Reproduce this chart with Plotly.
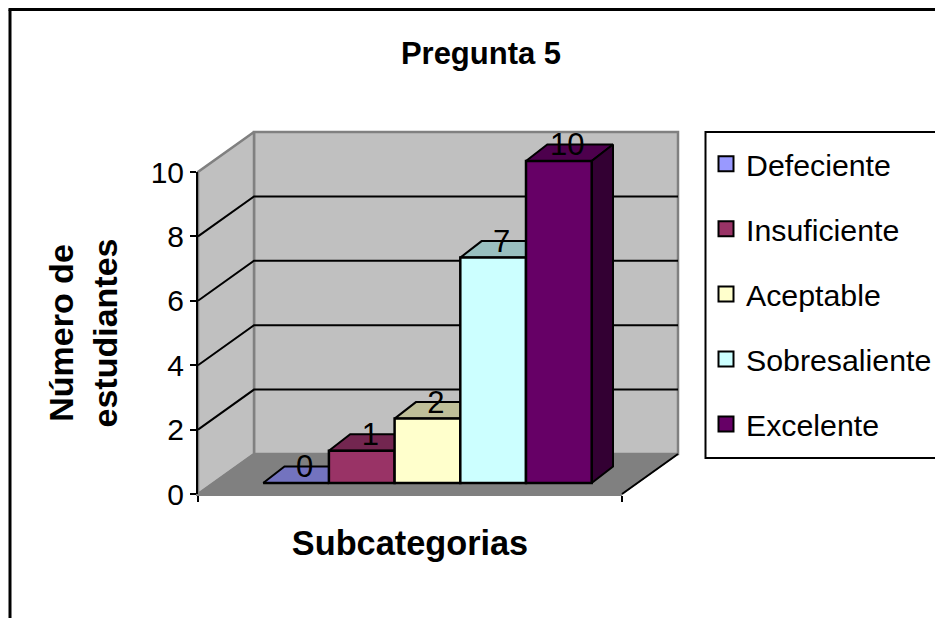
import plotly.graph_objects as go

# --- data ---
categorias = ["Defeciente", "Insuficiente", "Aceptable", "Sobresaliente", "Excelente"]
valores = [0, 1, 2, 7, 10]
eje_y_ticks = [0, 2, 4, 6, 8, 10]
titulo = "Pregunta 5"
titulo_x = "Subcategorias"
titulo_y = "Número de<br>estudiantes"

# --- styles ---
colores = ["#9999ff", "#993366", "#ffffcc", "#ccffff", "#660066"]
colores_arriba = ["#7373bf", "#732650", "#bfbf99", "#99bfbf", "#4d004d"]
colores_lado = ["#4d4d80", "#4d1a33", "#808066", "#668080", "#330033"]
FONT = "Liberation Sans"
W, H = 935, 618

# --- geometry of the fake 3D frame, in pixels ---
X0, X1 = 198, 622      # front plane left / right
Y0, Y10 = 494, 172     # front plane value 0 / value 10
PX_X = 65.7            # one category
PX_Y = (Y0 - Y10) / 10
WALL_DX = 56 / PX_X
WALL_DY = 40 / PX_Y
BAR_X0 = (263.2 - X0) / PX_X
BAR_BASE = (Y0 - 483) / PX_Y
BAR_DX = 21.3 / PX_X
BAR_DY = 16.5 / PX_Y
LABEL_DX = 8.5 / PX_X
LABEL_DY = 13.5 / PX_Y
x_max = (X1 - X0) / PX_X
y_max = 10
# canvas for the marks: a little larger than the frame so strokes are not cut
CX0, CX1, CY0, CY1 = 188, 688, 504, 122
canvas_x = [(CX0 - X0) / PX_X, (CX1 - X0) / PX_X]
canvas_y = [(Y0 - CY0) / PX_Y, (Y0 - CY1) / PX_Y]

fig = go.Figure()

def poly(xs, ys, fill=None, line="black", lw=2):
    fig.add_trace(go.Scatter(
        x=xs, y=ys, mode="lines", fill="toself" if fill else None, fillcolor=fill,
        line=dict(color=line, width=lw), hoverinfo="skip", showlegend=False))

# walls and floor
poly([WALL_DX, x_max + WALL_DX, x_max + WALL_DX, WALL_DX, WALL_DX],
     [WALL_DY, WALL_DY, y_max + WALL_DY, y_max + WALL_DY, WALL_DY], "#c0c0c0", "#808080", 2.5)
poly([0, WALL_DX, WALL_DX, 0, 0], [0, WALL_DY, y_max + WALL_DY, y_max, 0], "#c0c0c0", "#808080", 2.5)
poly([0, x_max, x_max + WALL_DX, WALL_DX, 0], [0, 0, WALL_DY, WALL_DY, 0], "#808080", "#808080", 1.5)
poly([x_max, x_max + WALL_DX], [0, WALL_DY], None, "black", 2)

# gridlines
for t in eje_y_ticks[1:-1]:
    poly([0, WALL_DX, x_max + WALL_DX], [t, t + WALL_DY, t + WALL_DY], None, "black", 2)

# top and side faces of every bar, behind the front faces
for i, v in enumerate(valores):
    left, right = BAR_X0 + i, BAR_X0 + i + 1
    top = v + BAR_BASE
    poly([left, right, right + BAR_DX, left + BAR_DX, left],
         [top, top, top + BAR_DY, top + BAR_DY, top], colores_arriba[i])
    if i == len(valores) - 1:
        poly([right, right + BAR_DX, right + BAR_DX, right, right],
             [BAR_BASE, BAR_BASE + BAR_DY, top + BAR_DY, top, BAR_BASE], colores_lado[i])

# front faces, on an overlaying pair of axes so they cover the faces above
for i, v in enumerate(valores):
    fig.add_trace(go.Bar(
        x=[BAR_X0 + i + 0.5], y=[v], base=BAR_BASE, width=1, xaxis="x2", yaxis="y2",
        marker=dict(color=colores[i], line=dict(color="black", width=2.5)),
        showlegend=False, name=categorias[i]))

# value labels
fig.add_trace(go.Scatter(
    x=[BAR_X0 + i + 0.5 + LABEL_DX for i in range(len(valores))],
    y=[v + BAR_BASE + LABEL_DY for v in valores],
    text=[str(v) for v in valores], mode="text", textposition="middle center",
    textfont=dict(family=FONT, size=31, color="black"),
    xaxis="x2", yaxis="y2", showlegend=False, hoverinfo="skip"))

# legend entries, on the visible axes
for i, c in enumerate(categorias):
    fig.add_trace(go.Scatter(
        x=[None], y=[None], mode="markers", name=c, legendgroup=c, xaxis="x3", yaxis="y3",
        marker=dict(symbol="square", size=15, color=colores[i], line=dict(color="black", width=2))))

canvas_dx = [CX0 / W, CX1 / W]
canvas_dy = [1 - CY0 / H, 1 - CY1 / H]
hidden = dict(domain=canvas_dx, range=canvas_x, visible=False)
hidden_y = dict(domain=canvas_dy, range=canvas_y, visible=False)
fig.update_layout(
    width=W, height=H, margin=dict(l=0, r=0, t=0, b=0, autoexpand=False),
    paper_bgcolor="white", plot_bgcolor="rgba(0,0,0,0)", barmode="overlay",
    font=dict(family=FONT, color="black"),
    title=dict(text="<b>%s</b>" % titulo, x=481 / W, xanchor="center", y=1 - 53 / H, yanchor="middle",
               font=dict(family=FONT, size=31)),
    xaxis=hidden,
    yaxis=hidden_y,
    xaxis2=dict(hidden, overlaying="x"),
    yaxis2=dict(hidden_y, overlaying="y"),
    xaxis3=dict(domain=[X0 / W, X1 / W], range=[0, x_max], anchor="y3", tickvals=[0, x_max],
                ticktext=["", ""], ticks="outside",
                ticklen=6, tickwidth=2, tickcolor="black", showgrid=False, zeroline=False,
                showline=True, linecolor="#808080", linewidth=2,
                title=dict(text="<b>%s</b>" % titulo_x, font=dict(family=FONT, size=34.3), standoff=28)),
    yaxis3=dict(domain=[1 - Y0 / H, 1 - Y10 / H], range=[0, y_max], anchor="x3", tickvals=eje_y_ticks,
                ticks="outside",
                ticklen=6, tickwidth=2, tickcolor="black", showgrid=False, zeroline=False,
                showline=True, linecolor="black", linewidth=2, tickfont=dict(family=FONT, size=30),
                title=dict(text="<b>%s</b>" % titulo_y, font=dict(family=FONT, size=34), standoff=23)),
    legend=dict(x=706 / W, xanchor="left", y=1 - 137.5 / H, yanchor="top", tracegroupgap=22.7,
                font=dict(family=FONT, size=30.3), itemsizing="trace", bgcolor="rgba(0,0,0,0)",
                traceorder="grouped"),
    shapes=[
        dict(type="rect", xref="paper", yref="paper", x0=705.5 / W, x1=1.01, y0=1 - 458 / H, y1=1 - 132 / H,
             line=dict(color="black", width=2), fillcolor="white", layer="below"),
        dict(type="line", xref="paper", yref="paper", x0=10 / W, x1=10 / W, y0=0, y1=1 - 9.5 / H,
             line=dict(color="black", width=3)),
        dict(type="line", xref="paper", yref="paper", x0=8.5 / W, x1=1, y0=1 - 9.5 / H, y1=1 - 9.5 / H,
             line=dict(color="black", width=3)),
    ],
)
fig.write_html("out.html", config=dict(displayModeBar=False),
               post_script="document.body.style.margin='0';")
